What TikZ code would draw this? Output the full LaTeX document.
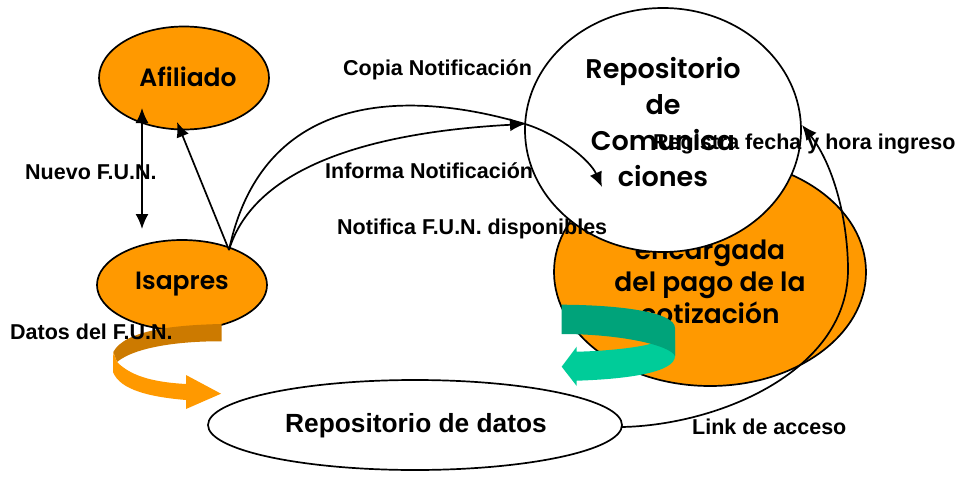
\documentclass[tikz,border=0pt]{standalone}
\usepackage{fontspec}
\setmainfont{Liberation Sans}
\newfontfamily\geo{Poppins SemiBold}
\usetikzlibrary{shapes.geometric,arrows.meta}
\definecolor{fillorange}{HTML}{FF9900}
\definecolor{darkorange}{HTML}{CC7A00}
\definecolor{lightgreen}{HTML}{00CC99}
\definecolor{darkgreen}{HTML}{00A37A}
\tikzset{
  bubble/.style={ellipse,draw=black,line width=1.7pt,inner sep=0pt},
  filled/.style={bubble,fill=fillorange},
  blank/.style={bubble,fill=white},
  biglabel/.style={inner sep=0pt,align=center,font=\geo\fontsize{27}{36}\selectfont},
  shortlabel/.style={inner sep=0pt,align=center,font=\geo\fontsize{25}{30}\selectfont},
  pagolabel/.style={inner sep=0pt,align=center,font=\geo\fontsize{26.5}{32}\selectfont},
  smalllabel/.style={inner sep=0pt,anchor=west,font=\bfseries\fontsize{21.5}{24}\selectfont},
  link/.style={draw=black,line width=1.7pt,-{Latex[length=15pt,width=13pt]}},
  plainlink/.style={draw=black,line width=1.7pt}
}
\begin{document}
\begin{tikzpicture}[x=1pt,y=-1pt]
\useasboundingbox (0,0) rectangle (958,479);
% orange body behind
\node[filled,minimum width=312pt,minimum height=228pt] (pago) at (710,272) {};
\node[pagolabel] (pagotext) at (710,282) {encargada\\del pago de la\\cotización};
% main ellipses
\node[filled,minimum width=170pt,minimum height=103pt] (afiliado) at (184,78) {};
\node[shortlabel] (afiliadotext) at (188,77) {Afiliado};
\node[filled,minimum width=170pt,minimum height=90pt] (isapres) at (182,285) {};
\node[shortlabel] (isaprestext) at (182,284) {Isapres};
\node[blank,minimum width=276pt,minimum height=244pt] (comunica) at (663,130) {};
\node[biglabel] (comunicatext) at (663,122) {Repositorio\\de\\Comunica\\ciones};
\node[blank,minimum width=414pt,minimum height=90pt] (datos) at (415,425) {};
\node[inner sep=0pt,font=\bfseries\fontsize{26.3}{30}\selectfont] (datostext) at (416,426) {Repositorio de datos};
% ribbon arrows
\fill[darkorange] (221.7,324) .. controls (175,325) and (125,330) .. (113.3,352) -- (117,362) .. controls (135,347) and (180,341) .. (221.7,341.3) -- cycle;
\fill[fillorange] (113.3,352) -- (113,372) .. controls (120,390) and (150,397) .. (186,400) -- (186,409) -- (221,393.7) -- (186,375) -- (186,384) .. controls (150,382) and (130,375) .. (117,362) -- cycle;
\fill[lightgreen] (675,356) .. controls (675,372) and (630,379) .. (576.7,380.7) -- (576.7,386) -- (561.7,366.7) -- (576.7,346.7) -- (576.7,351.7) .. controls (610,351) and (640,347) .. (650,344) -- (675,340) -- cycle;
\fill[darkgreen] (561.7,304.7) .. controls (620,305) and (675,312) .. (675,328) -- (675,356) .. controls (670,345) and (620,334) .. (561.7,334) -- cycle;
% connectors
\coordinate (isapresTop) at (229,250);
\coordinate (afiliadoLow) at (177,122);
\coordinate (comunicaLeft) at (525,124);
\coordinate (comunicaIn) at (602,187);
\coordinate (comunicaRight) at (802,125);
\coordinate (datosRight) at (622,427);
\draw[plainlink,{Latex[length=15pt,width=13pt]}-{Latex[length=15pt,width=13pt]}] (142,108) -- (142,229);
\draw[link] (isapresTop) -- (afiliadoLow);
\draw[link] (isapresTop) .. controls (265,80) and (425,94) .. (525,124) .. controls (558,134) and (590,160) .. (comunicaIn);
\draw[link] (isapresTop) .. controls (255,165) and (375,132) .. (comunicaLeft);
\draw[link] (datosRight) .. controls (720,425) and (850,370) .. (848,267) .. controls (847,210) and (830,160) .. (comunicaRight);
% labels
\node[smalllabel] (copia) at (343,70) {Copia Notificación};
\node[smalllabel] (nuevo) at (25,172) {Nuevo F.U.N.};
\node[smalllabel] (informa) at (325,171) {Informa Notificación};
\node[smalllabel] (notifica) at (337,229) {Notifica F.U.N. disponibles};
\node[smalllabel] (registra) at (653,144) {Registra fecha y hora ingreso};
\node[smalllabel] (datosfun) at (10,332) {Datos del F.U.N.};
\node[smalllabel] (acceso) at (692,427) {Link de acceso};
\end{tikzpicture}
\end{document}
